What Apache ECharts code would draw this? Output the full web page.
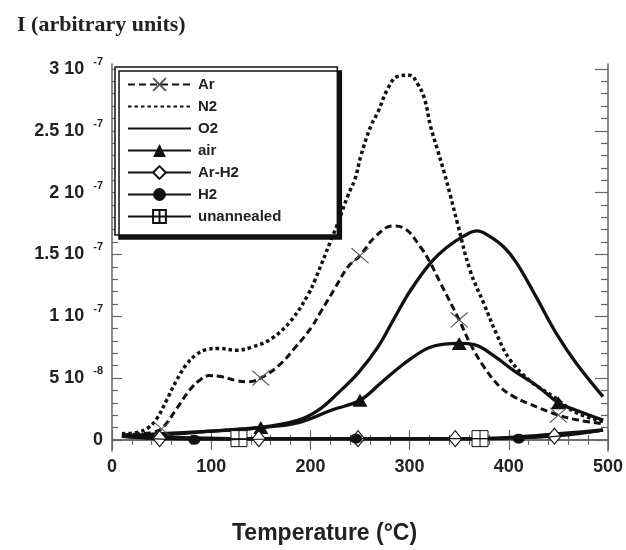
<!DOCTYPE html>
<html>
<head>
<meta charset="utf-8">
<script src="https://cdn.jsdelivr.net/npm/echarts@6/dist/echarts.min.js"></script>
<style>
html,body{margin:0;padding:0;background:#fff;}
#chart{width:626px;height:550px;}
</style>
</head>
<body>
<div id="chart"></div>
<script>
// Values in units of 1e-8 (arbitrary units); temperatures in °C
const seriesNames = ['Ar', 'N2', 'O2', 'air', 'Ar-H2', 'H2', 'unannealed'];

const arT = [10, 30, 40, 50, 65, 78, 88, 98, 111, 125, 138, 150, 168, 185, 201, 210, 225, 238, 250, 265, 283, 295, 311, 321, 331, 350, 361, 375, 391, 405, 421, 450, 470, 495];
const arV = [0.4, 0.5, 0.6, 0.9, 2.5, 4.0, 4.8, 5.2, 5.1, 4.8, 4.7, 5.0, 6.0, 7.5, 9.1, 10.3, 12.3, 14.0, 14.9, 16.4, 17.3, 17.1, 15.6, 14.3, 12.7, 9.7, 7.8, 5.9, 4.3, 3.5, 2.9, 2.0, 1.6, 1.3];
const arMarks = [50, 150, 250, 350, 450];

const n2T = [10, 25, 35, 45, 55, 65, 75, 85, 95, 108, 125, 141, 161, 181, 198, 205, 221, 228, 238, 245, 251, 261, 268, 278, 288, 300, 308, 315, 321, 328, 335, 341, 348, 361, 375, 388, 401, 421, 445, 468, 495];
const n2V = [0.5, 0.6, 0.9, 1.7, 3.2, 4.8, 6.1, 6.9, 7.3, 7.4, 7.25, 7.5, 8.2, 9.7, 11.8, 13.0, 16.2, 17.6, 19.8, 21.1, 23.0, 25.4, 26.5, 28.4, 29.4, 29.5, 28.8, 27.6, 25.4, 23.5, 21.6, 19.8, 17.6, 13.7, 11.0, 8.5, 6.5, 4.8, 3.5, 2.2, 1.5];

const o2T = [10, 50, 100, 150, 188, 208, 228, 248, 268, 285, 301, 321, 338, 355, 368, 378, 395, 408, 428, 448, 468, 495];
const o2V = [0.3, 0.5, 0.7, 1.0, 1.6, 2.4, 3.8, 5.4, 7.5, 9.9, 12.1, 14.3, 15.6, 16.5, 16.9, 16.6, 15.6, 14.3, 11.5, 8.6, 6.2, 3.5];

const airT = [10, 50, 100, 150, 188, 221, 250, 271, 295, 318, 335, 350, 365, 385, 405, 428, 450, 468, 495];
const airV = [0.3, 0.4, 0.7, 1.0, 1.4, 2.4, 3.2, 4.6, 6.2, 7.4, 7.75, 7.8, 7.7, 6.8, 5.6, 4.4, 3.0, 2.4, 1.6];
const airMarks = [150, 250, 350, 450];

const arh2T = [10, 48, 100, 148, 200, 248, 300, 346, 400, 446, 470, 495];
const arh2V = [0.3, 0.1, 0.1, 0.1, 0.1, 0.1, 0.1, 0.1, 0.15, 0.3, 0.5, 0.8];
const arh2Marks = [48, 148, 248, 346, 446];

const h2T = [10, 83, 150, 246, 330, 410, 450, 495];
const h2V = [0.2, 0.0, 0.05, 0.1, 0.1, 0.1, 0.3, 0.7];
const h2Marks = [83, 246, 410];

const unT = [10, 60, 128, 200, 300, 371, 420, 495];
const unV = [0.3, 0.2, 0.1, 0.1, 0.1, 0.1, 0.3, 0.8];
const unMarks = [128, 371];

const xTicks = [0, 100, 200, 300, 400, 500];
const yTickValues = [0, 5, 10, 15, 20, 25, 30];
const yLabelMant = ['0', '5 10', '1 10', '1.5 10', '2 10', '2.5 10', '3 10'];
const yLabelExp = ['', '-8', '-7', '-7', '-7', '-7', '-7'];

function build(ts, vs, marks) {
  return ts.map(function (t, i) {
    const item = { value: [t, vs[i]] };
    if (!marks || marks.indexOf(t) < 0) item.symbol = 'none';
    return item;
  });
}

const INK = '#111';
const FRAME = '#666';
const yMinor = [];
for (let v = 1; v <= 30; v++) { if (v % 5 !== 0) yMinor.push(v); }

const chart = echarts.init(document.getElementById('chart'), null, { renderer: 'canvas' });

const yMin = -0.9, yMax = 30.4;

function yAxisCfg(pos, len, values, withLabel, withLine) {
  return {
    type: 'value', position: pos, min: yMin, max: yMax,
    axisLine: { show: withLine, lineStyle: { color: FRAME, width: 1.5 } },
    axisTick: { show: true, inside: true, length: len, customValues: values, lineStyle: { color: FRAME, width: 1.2 } },
    axisLabel: withLabel ? {
      show: true, customValues: yTickValues, margin: 9,
      formatter: function (v) {
        const i = yTickValues.indexOf(Math.round(v));
        if (i < 0) return '';
        if (!yLabelExp[i]) return '{m|' + yLabelMant[i] + '}';
        return '{m|' + yLabelMant[i] + '}{e|' + yLabelExp[i] + '}';
      },
      rich: {
        m: { fontFamily: 'Liberation Sans, Arial, sans-serif', fontWeight: 'bold', fontSize: 18, color: '#222', lineHeight: 22 },
        e: { fontFamily: 'Liberation Sans, Arial, sans-serif', fontWeight: 'bold', fontSize: 11, color: '#222', padding: [0, 0, 14, 9] }
      }
    } : { show: false },
    splitLine: { show: false }
  };
}

function xAxisCfg(pos, withLabel) {
  return {
    type: 'value', position: pos, min: 0, max: 500, interval: 100,
    axisLine: { show: true, lineStyle: { color: FRAME, width: 1.5 } },
    axisTick: { show: true, inside: true, length: 10, lineStyle: { color: FRAME, width: 1.2 } },
    minorTick: { show: true, splitNumber: 5, length: 5, lineStyle: { color: FRAME, width: 1.2 } },
    axisLabel: withLabel ? {
      show: true, margin: 7, fontFamily: 'Liberation Sans, Arial, sans-serif', fontWeight: 'bold', fontSize: 18, color: '#222',
      customValues: xTicks
    } : { show: false },
    splitLine: { show: false }, minorSplitLine: { show: false }
  };
}

const common = { type: 'line', smooth: 0.4, animation: false, emphasis: { disabled: true }, silent: true, clip: true };

const option = {
  animation: false,
  color: [INK],
  backgroundColor: '#fff',
  grid: { left: 112, right: 12, top: 64, bottom: 99 },
  title: {
    text: 'I (arbitrary units)', left: 12, top: 9,
    textStyle: { fontFamily: 'Liberation Serif, Times New Roman, serif', fontWeight: 'bold', fontSize: 22, color: '#222' }
  },
  graphic: [{
    type: 'text', left: 232, top: 522,
    style: { text: 'Temperature (°C)', font: 'bold 23px "Liberation Sans", Arial, sans-serif', fill: '#222' }
  }],
  legend: {
    orient: 'vertical', left: 115, top: 67,
    padding: [10, 56, 11, 12],
    itemWidth: 63, itemHeight: 16, itemGap: 7,
    backgroundColor: '#fff', borderColor: INK, borderWidth: 1.5,
    shadowColor: '#111', shadowBlur: 0, shadowOffsetX: 4, shadowOffsetY: 4,
    selectedMode: false,
    textStyle: { fontFamily: 'Liberation Sans, Arial, sans-serif', fontWeight: 'bold', fontSize: 15, color: '#222', padding: [0, 0, 0, 2] },
    data: [
      { name: 'Ar' },
      { name: 'N2', itemStyle: { opacity: 0 } },
      { name: 'O2', itemStyle: { opacity: 0 } },
      { name: 'air' },
      { name: 'Ar-H2' },
      { name: 'H2' },
      { name: 'unannealed' }
    ]
  },
  xAxis: [xAxisCfg('bottom', true), xAxisCfg('top', false)],
  yAxis: [
    yAxisCfg('left', 10, yTickValues, true, true),
    yAxisCfg('left', 6, yMinor, false, false),
    yAxisCfg('right', 13, yTickValues, false, true),
    yAxisCfg('right', 7, yMinor, false, false)
  ],
  series: [
    Object.assign({}, common, {
      name: seriesNames[0], data: build(arT, arV, arMarks), z: 5,
      symbol: 'path://M0 0L20 20M20 0L0 20', symbolSize: [17, 15],
      itemStyle: { color: 'rgba(0,0,0,0)', borderColor: '#555', borderWidth: 1.1 },
      lineStyle: { color: INK, width: 3, type: [7, 4] }
    }),
    Object.assign({}, common, {
      name: seriesNames[1], data: build(n2T, n2V, null), z: 4,
      symbol: 'circle', symbolSize: 0,
      itemStyle: { color: INK, opacity: 0 },
      lineStyle: { color: INK, width: 3.5, type: [3.5, 3] }
    }),
    Object.assign({}, common, {
      name: seriesNames[2], data: build(o2T, o2V, null), z: 3,
      symbol: 'circle', symbolSize: 0,
      itemStyle: { color: INK, opacity: 0 },
      lineStyle: { color: INK, width: 3.3 }
    }),
    Object.assign({}, common, {
      name: seriesNames[3], data: build(airT, airV, airMarks), z: 3,
      symbol: 'triangle', symbolSize: [15, 13],
      itemStyle: { color: INK, borderWidth: 0 },
      lineStyle: { color: INK, width: 3.3 }
    }),
    Object.assign({}, common, {
      name: seriesNames[4], data: build(arh2T, arh2V, arh2Marks), z: 6,
      symbol: 'diamond', symbolSize: [13, 16],
      itemStyle: { color: '#fff', borderColor: INK, borderWidth: 1.2 },
      lineStyle: { color: INK, width: 3 }
    }),
    Object.assign({}, common, {
      name: seriesNames[5], data: build(h2T, h2V, h2Marks), z: 7,
      symbol: 'circle', symbolSize: [12, 10],
      itemStyle: { color: INK, borderWidth: 0 },
      lineStyle: { color: INK, width: 1.2 }
    }),
    Object.assign({}, common, {
      name: seriesNames[6], data: build(unT, unV, unMarks), z: 6,
      symbol: 'path://M0 0H20V20H0ZM10 0V20M0 10H20', symbolSize: 16,
      itemStyle: { color: '#fff', borderColor: INK, borderWidth: 1 },
      lineStyle: { color: INK, width: 3.5 }
    })
  ]
};
chart.setOption(option);
</script>
</body>
</html>
